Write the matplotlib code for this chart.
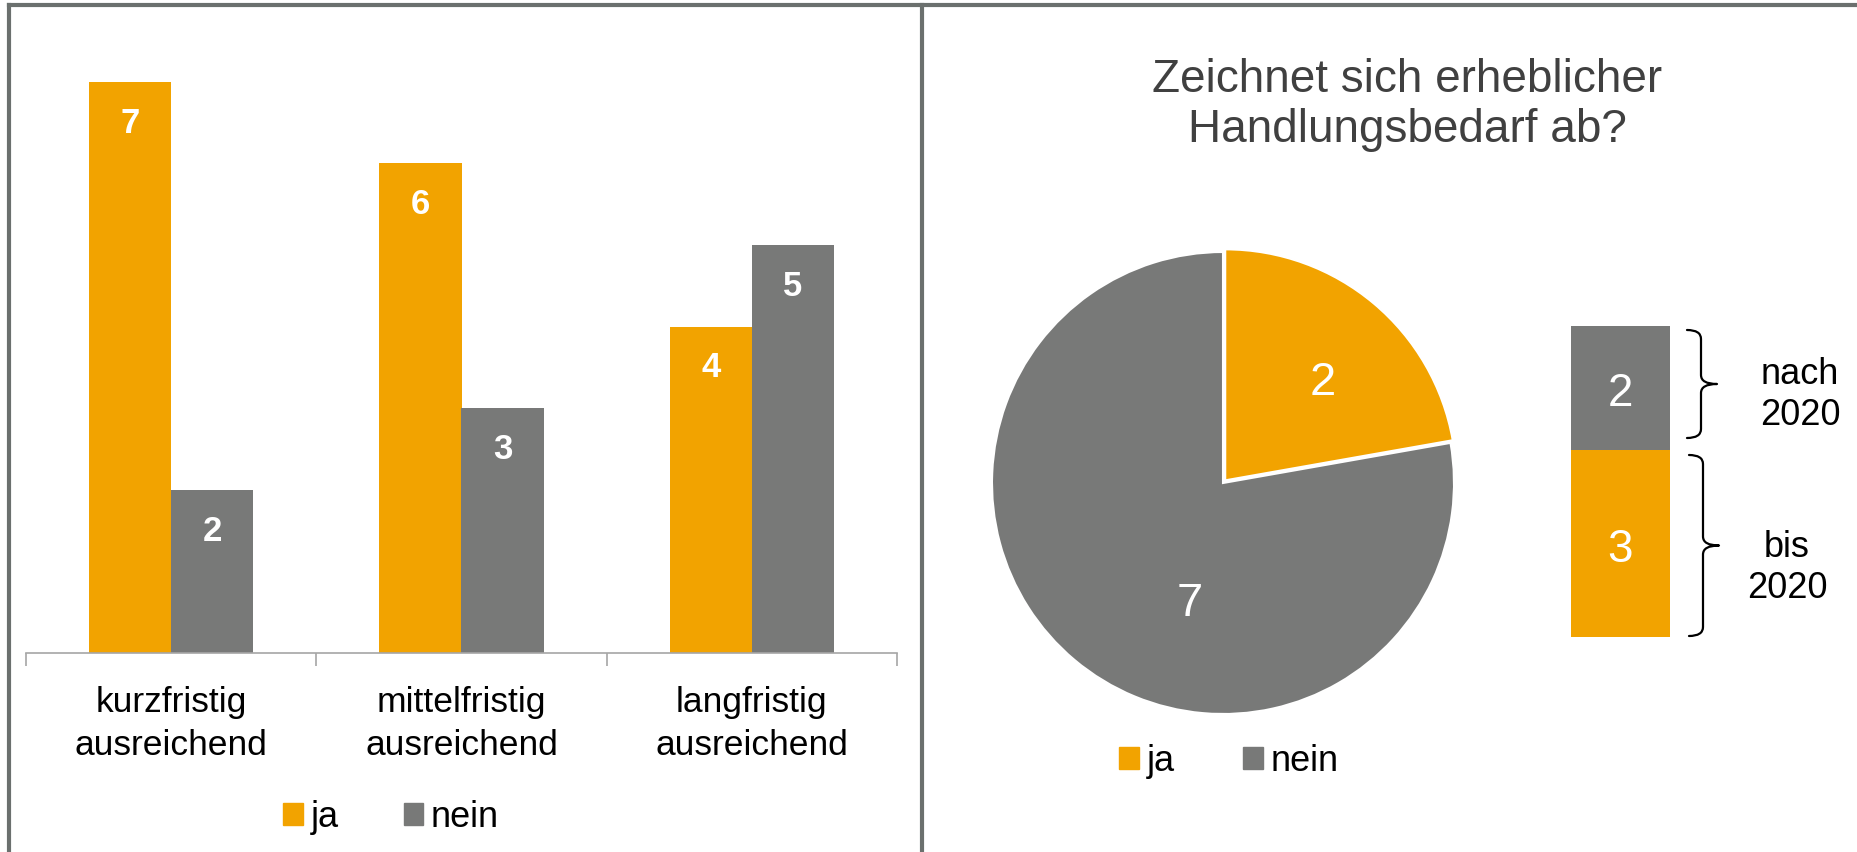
import numpy as np
import matplotlib
matplotlib.use("Agg")
import matplotlib.pyplot as plt
from matplotlib.lines import Line2D
from matplotlib.patches import Patch, PathPatch
from matplotlib.path import Path

W, H = 1858, 853
ORANGE = "#F2A300"
GRAY = "#787978"
FRAME = "#6B706E"

# Daten
categories = ["kurzfristig\nausreichend", "mittelfristig\nausreichend", "langfristig\nausreichend"]
ja_values = [7, 6, 4]
nein_values = [2, 3, 5]

pie_labels = ["ja", "nein"]
pie_values = [2, 7]

stack_labels = ["bis\n2020", "nach\n2020"]
stack_values = [3, 2]

title = "Zeichnet sich erheblicher\nHandlungsbedarf ab?"

plt.rcParams["font.family"] = ["Liberation Sans", "DejaVu Sans"]


def px_axes(fig, x0, y0, x1, y1):
    # Rechteck in Pixeln (y von oben gemessen)
    return fig.add_axes([x0 / W, 1 - y1 / H, (x1 - x0) / W, (y1 - y0) / H])


def brace(ax, x0, xs, x1, y0, y1, r=9):
    # geschweifte Klammer "}" in Pixelkoordinaten
    ym = (y0 + y1) / 2
    verts = [
        (x0, y0), (xs, y0), (xs, y0 + r),
        (xs, ym - r),
        (xs, ym), (x1, ym),
        (xs, ym), (xs, ym + r),
        (xs, y1 - r),
        (xs, y1), (x0, y1),
    ]
    codes = [Path.MOVETO, Path.CURVE3, Path.CURVE3, Path.LINETO,
             Path.CURVE3, Path.CURVE3, Path.CURVE3, Path.CURVE3,
             Path.LINETO, Path.CURVE3, Path.CURVE3]
    ax.add_patch(PathPatch(Path(verts, codes), fill=False, lw=1.6, edgecolor="black",
                           capstyle="round", joinstyle="round"))


fig = plt.figure(figsize=(W / 100, H / 100), dpi=100)

# Hintergrund: Rahmen und Klammern
bg = fig.add_axes([0, 0, 1, 1])
bg.set_xlim(0, W)
bg.set_ylim(H, 0)
bg.axis("off")
bg.add_line(Line2D([9, 9], [6, H], color=FRAME, lw=3))
bg.add_line(Line2D([9, W], [6, 6], color=FRAME, lw=3))
bg.add_line(Line2D([922, 922], [6, H], color=FRAME, lw=3))
brace(bg, 1687, 1701, 1717, 331, 439)
brace(bg, 1689, 1703, 1719, 456, 637)

# --- Linkes Panel: gruppierte Balken ---
ax = px_axes(fig, 26, 42, 897, 654)
x = np.arange(len(categories))
bw = 0.283
off = 0.141
b1 = ax.bar(x - off, ja_values, bw, color=ORANGE, label="ja")
b2 = ax.bar(x + off, nein_values, bw, color=GRAY, label="nein")
for bars in (b1, b2):
    for rect in bars:
        ax.annotate(f"{int(rect.get_height())}",
                    (rect.get_x() + rect.get_width() / 2, rect.get_height()),
                    xytext=(0, -29), textcoords="offset points",
                    ha="center", va="center", color="white",
                    fontsize=25, fontweight="bold")
ax.set_xlim(-0.5, len(categories) - 0.5)
ax.set_ylim(0, 7.5)
for s in ("top", "right", "left"):
    ax.spines[s].set_visible(False)
ax.spines["bottom"].set_color("#A6A6A6")
ax.spines["bottom"].set_linewidth(1.2)
ax.set_yticks([])
ax.set_xticks(x)
ax.set_xticklabels(categories, fontsize=25.5, linespacing=1.38)
ax.tick_params(axis="x", which="major", length=0, pad=23)
ax.set_xticks(np.arange(-0.5, len(categories)), minor=True)
ax.tick_params(axis="x", which="minor", length=9, width=1.2, color="#A6A6A6", direction="out")

fig.legend(handles=[Patch(color=ORANGE, label="ja"), Patch(color=GRAY, label="nein")],
           loc="center", bbox_to_anchor=(391 / W, 1 - 818 / H), ncol=2, frameon=False,
           fontsize=26, handlelength=0.55, handleheight=0.55, handletextpad=0.2,
           columnspacing=1.8, borderpad=0, borderaxespad=0)

# --- Rechtes Panel: Kreisdiagramm ---
fig.text(1407 / W, 1 - 105 / H, title, ha="center", va="center", fontsize=33,
         color="#404040", linespacing=1.15)

R = 231
cx, cy = 1223, 484
pax = px_axes(fig, cx - R * 1.05, cy - R * 1.05, cx + R * 1.05, cy + R * 1.05)
pax.pie(pie_values, colors=[ORANGE, GRAY], startangle=90, counterclock=False,
        explode=[0.015, 0], wedgeprops=dict(edgecolor="white", linewidth=1.5))
pax.set_xlim(-1.05, 1.05)
pax.set_ylim(-1.05, 1.05)
pax.set_aspect("equal")
label_pos = [(47, 0.63), (254, 0.52)]
for v, (ang, rr) in zip(pie_values, label_pos):
    a = np.deg2rad(ang)
    pax.text(rr * np.cos(a), rr * np.sin(a), str(v), ha="center", va="center_baseline",
             color="white", fontsize=34)

fig.legend(handles=[Patch(color=ORANGE, label=pie_labels[0]),
                    Patch(color=GRAY, label=pie_labels[1])],
           loc="center", bbox_to_anchor=(1229 / W, 1 - 762 / H), ncol=2, frameon=False,
           fontsize=26, handlelength=0.55, handleheight=0.55, handletextpad=0.2,
           columnspacing=1.9, borderpad=0, borderaxespad=0)

# --- Gestapelter Balken ---
sax = px_axes(fig, 1571, 327, 1670, 638)
bottom = 0
for v, c in zip(stack_values, [ORANGE, GRAY]):
    sax.bar(0, v, width=1, bottom=bottom, color=c)
    sax.text(0, bottom + v / 2, str(v), ha="center", va="center_baseline",
             color="white", fontsize=33)
    bottom += v
sax.set_xlim(-0.5, 0.5)
sax.set_ylim(0, sum(stack_values))
sax.axis("off")

bg.text(1787, 568, stack_labels[0], ha="center", va="center", fontsize=26, linespacing=1.25)
bg.text(1800, 395, stack_labels[1], ha="center", va="center", fontsize=26, linespacing=1.25)

fig.savefig("out.png", dpi=100)
